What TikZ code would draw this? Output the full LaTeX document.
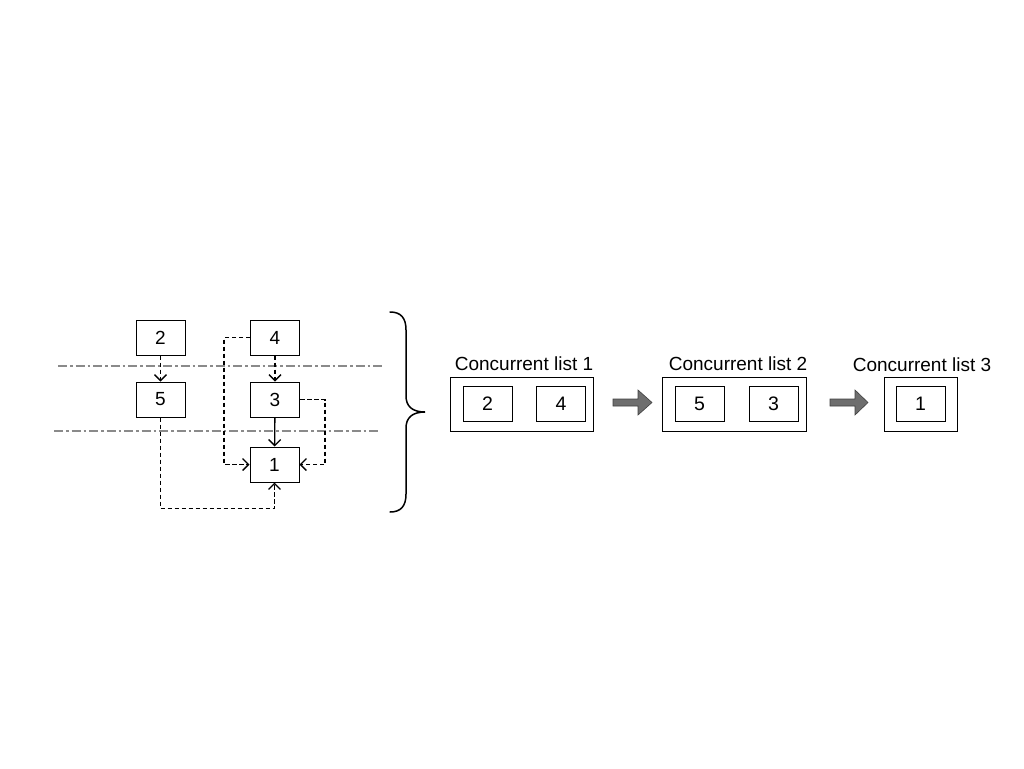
\documentclass[tikz,border=0pt]{standalone}
\usepackage{fontspec}
\setmainfont{Liberation Sans}
\usetikzlibrary{arrows.meta}
\definecolor{lineGray}{HTML}{8A8A8A}
\definecolor{blockGray}{HTML}{6E6E6E}
\definecolor{blockEdge}{HTML}{404040}
\begin{document}
\begin{tikzpicture}[x=1pt,y=-1pt,
  box/.style={draw=black,line width=1pt,minimum width=49pt,minimum height=35pt,inner sep=0pt,font=\fontsize{19}{19}\selectfont},
  lbox/.style={draw=black,line width=1pt,minimum width=49pt,minimum height=35pt,inner sep=0pt,font=\fontsize{19.5}{19.5}\selectfont},
  outer/.style={draw=black,line width=1pt,minimum height=54pt,inner sep=0pt},
  listlabel/.style={anchor=base,inner sep=0pt,font=\fontsize{19}{19}\selectfont},
  dep/.style={line width=1.35pt,dash pattern=on 4.5pt off 2.5pt,-{Straight Barb[length=6pt,width=12pt,line width=1.3pt]}},
  soliddep/.style={line width=1.35pt,-{Straight Barb[length=6pt,width=12pt,line width=1.3pt]}},
  level/.style={draw=lineGray,line width=1.2pt,dash pattern=on 9pt off 3pt on 2.5pt off 3pt},
  blockarrow/.style={fill=blockGray,draw=blockEdge,line width=0.6pt}
]
\useasboundingbox (0,0) rectangle (1024,768);

% level separators
\draw[level] (58,366) -- (383,366);
\draw[level] (54,431) -- (380,431);

% task graph
\node[box] (n2) at (160.5,337.5) {2};
\node[box] (n4) at (275,337.5) {4};
\node[box] (n5) at (160.5,399.5) {5};
\node[box] (n3) at (275,399.5) {3};
\node[box] (n1) at (274.5,464.5) {1};

\draw[dep] (n2) -- (n5);
\draw[dep] (n4) -- (n3);
\draw[soliddep] (n3) -- (n1);
\draw[dep] (n4.west) -- ++(-26,0) |- (n1.west);
\draw[dep] (n3.east) -- ++(25,0) |- (n1.east);
\draw[dep] (n5.south) -- ++(0,91) -| (n1.south);

% brace
\draw[line width=1.5pt,line cap=round]
  (390,312) .. controls (401,312) and (406,318) .. (406,330)
  -- (406,396) .. controls (406,406) and (412,412) .. (425,412)
  .. controls (412,412) and (406,418) .. (406,428)
  -- (406,494) .. controls (406,506) and (401,512) .. (390,512);

% concurrent lists
\node[outer,minimum width=143pt] (L1) at (521.5,404.5) {};
\node[lbox] (L1a) at (487.5,403.5) {2};
\node[lbox] (L1b) at (561,403.5) {4};
\node[listlabel] (T1) at (524,370) {Concurrent list 1};

\node[outer,minimum width=144pt] (L2) at (734.5,404.5) {};
\node[lbox] (L2a) at (699.5,403.5) {5};
\node[lbox] (L2b) at (773.5,403.5) {3};
\node[listlabel] (T2) at (738,370) {Concurrent list 2};

\node[outer,minimum width=73pt] (L3) at (920.5,404.5) {};
\node[lbox] (L3a) at (920.5,403.5) {1};
\node[listlabel] (T3) at (922,371.5) {Concurrent list 3};

% block arrows
\draw[blockarrow] (613,399) -- (638,399) -- (638,390) -- (652,402.5) -- (638,415) -- (638,406) -- (613,406) -- cycle;
\draw[blockarrow] (830,399) -- (855,399) -- (855,390) -- (868,402.5) -- (855,415) -- (855,406) -- (830,406) -- cycle;
\end{tikzpicture}
\end{document}
